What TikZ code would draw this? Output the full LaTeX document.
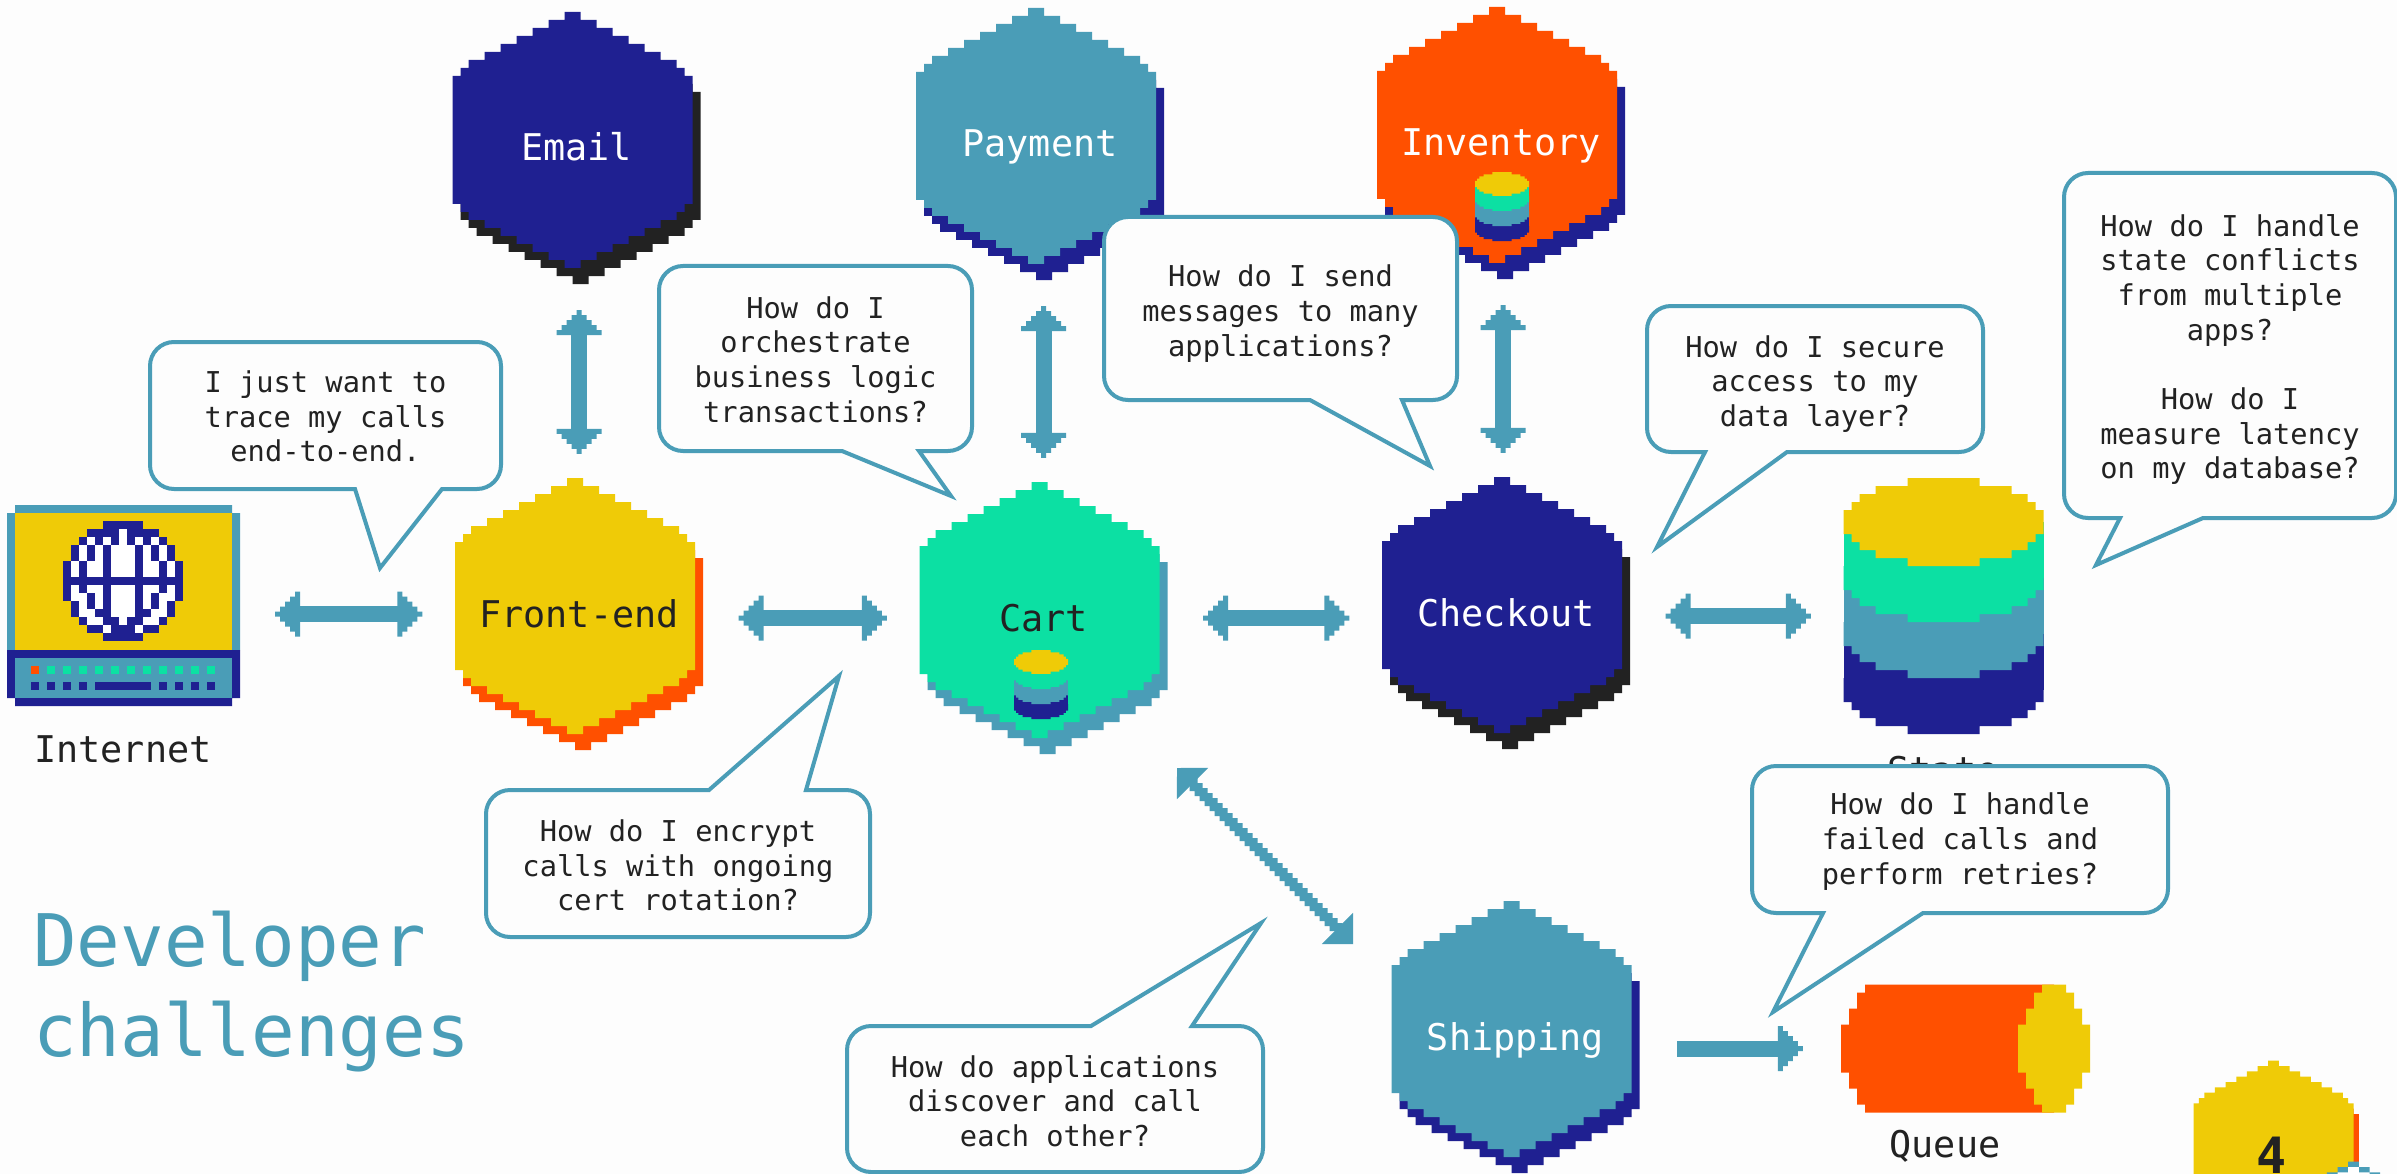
\documentclass[tikz,border=0pt]{standalone}
\usepackage{fontspec}
\setmainfont{DejaVu Sans Mono}
\usetikzlibrary{arrows.meta,calc,decorations.pathmorphing}

\definecolor{paper}{HTML}{FDFDFD}
\definecolor{navy}{HTML}{1F2091}
\definecolor{teal}{HTML}{4A9DB7}
\definecolor{gold}{HTML}{EFCB07}
\definecolor{flame}{HTML}{FF5000}
\definecolor{mint}{HTML}{0CE0A3}
\definecolor{ink}{HTML}{222222}

% stepped arrow head, five columns of 5pt
\pgfdeclarearrow{
  name=PixTip,
  setup code={
    \pgfarrowssettipend{25pt}
    \pgfarrowssetlineend{1pt}
    \pgfarrowssetbackend{0pt}
    \pgfarrowssetvisualbackend{0pt}
  },
  drawing code={
    \pgfpathrectanglecorners{\pgfqpoint{0pt}{-2.5pt}}{\pgfqpoint{25pt}{2.5pt}}
    \pgfpathrectanglecorners{\pgfqpoint{0pt}{-7.5pt}}{\pgfqpoint{20pt}{7.5pt}}
    \pgfpathrectanglecorners{\pgfqpoint{0pt}{-12.5pt}}{\pgfqpoint{15pt}{12.5pt}}
    \pgfpathrectanglecorners{\pgfqpoint{0pt}{-17.5pt}}{\pgfqpoint{10pt}{17.5pt}}
    \pgfpathrectanglecorners{\pgfqpoint{0pt}{-22.5pt}}{\pgfqpoint{5pt}{22.5pt}}
    \pgfusepathqfill
  }
}

\newcommand{\hexoutline}{(1,-16) |- (3,-15) |- (5,-14) |- (7,-13) |- (9,-12) |- (11,-11) |- (13,-10) |- (14,-9) |- (15,-8)
  -- (15,8) -| (14,9) -| (13,10) -| (11,11) -| (9,12) -| (7,13) -| (5,14) -| (3,15) -| (1,16)
  -- (-1,16) |- (-3,15) |- (-5,14) |- (-7,13) |- (-9,12) |- (-11,11) |- (-13,10) |- (-14,9) |- (-15,8)
  -- (-15,-8) -| (-14,-9) -| (-13,-10) -| (-11,-11) -| (-9,-12) -| (-7,-13) -| (-5,-14) -| (-3,-15) -| (-1,-16) -- cycle}
\newcommand{\lensoutline}{(4.5,-5.5) |- (8.5,-4.5) |- (10.5,-3.5) |- (11.5,-2.5) |- (12.5,-1.5)
  -- (12.5,1.5) -| (11.5,2.5) -| (10.5,3.5) -| (8.5,4.5) -| (4.5,5.5)
  -- (-4.5,5.5) |- (-8.5,4.5) |- (-10.5,3.5) |- (-11.5,2.5) |- (-12.5,1.5)
  -- (-12.5,-1.5) -| (-11.5,-2.5) -| (-10.5,-3.5) -| (-8.5,-4.5) -| (-4.5,-5.5) -- cycle}

% centre of hexagon and shadow, fill, shadow, pixel size
\newcommand{\hexshape}[4]{
  \begin{scope}[shift={(#1)}, x=#4pt, y=-#4pt]
    \fill[#3, shift={(.5,1)}] \hexoutline;
    \fill[#2, shift={(-.5,-1)}] \hexoutline;
  \end{scope}
}
% name, centre, fill, shadow, text colour, label
\newcommand{\hexnode}[6]{
  \hexshape{#2}{#3}{#4}{8}
  \node[service, text=#5] (#1) at (#2) {#6};
}
% centre of the top face, pixel size
\newcommand{\stack}[2]{
  \begin{scope}[shift={(#1)}, x=#2pt, y=-#2pt]
    \foreach \dy/\layer in {21/navy,14/teal,7/mint}{
      \fill[\layer, shift={(0,\dy)}] \lensoutline;
      \fill[\layer] (-12.5,\dy-7) rectangle (12.5,\dy);
    }
    \fill[gold] \lensoutline;
  \end{scope}
}
% text drop, name, tail-side left corner, opposite corner, tail base x (two), tail tip, text
\newcommand{\bubble}[8][3]{
  \path (#3) coordinate (#2A) (#4) coordinate (#2B) (#5,0) coordinate (#2p) (#6,0) coordinate (#2q) (#7) coordinate (#2tip);
  \draw[bubbleline] (#2p |- #2A) -- (#2A) -- (#2A |- #2B) -- (#2B) -- (#2B |- #2A)
    [sharp corners] -- (#2q |- #2A) -- (#2tip) -- cycle;
  \node[question, yshift=-#1pt] (#2) at ($(#2A)!.5!(#2B)$) {#8};
}

\begin{document}
\begin{tikzpicture}[
 x=1pt, y=-1pt,
 service/.style={inner sep=0pt, minimum width=249pt, minimum height=272pt, text height=26pt, text depth=0pt, font=\fontsize{36.8}{37}\selectfont},
 caption/.style={anchor=base, inner sep=0pt, text=ink, font=\fontsize{36.8}{37}\selectfont},
 question/.style={align=center, inner sep=0pt, text=ink, font=\fontsize{28.7}{34.7}\selectfont},
 bubbleline/.style={draw=teal, fill=paper, line width=4pt, rounded corners=24pt},
 link/.style={draw=teal, line width=16pt},
 hlink/.style={link, {PixTip}-{PixTip}, shorten <=35pt, shorten >=32pt},
 vlink/.style={link, {PixTip}-{PixTip}, shorten <=26pt, shorten >=24pt},
 stair/.style={draw=teal, line width=8pt, decorate, decoration={zigzag, amplitude=1.77pt, segment length=7.07pt}}
]
 \useasboundingbox (0,0) rectangle (2397,1174);
 \fill[paper] (0,0) rectangle (2397,1174);

 % Services
 \hexnode{email}{576.5,148}{navy}{ink}{white}{Email}
 \hexnode{payment}{1040,144}{teal}{navy}{white}{Payment}
 \hexnode{inventory}{1501,143}{flame}{navy}{white}{Inventory}
 \hexnode{frontend}{579,614}{gold}{flame}{ink}{Front-end}
 \hexnode{cart}{1043.5,618}{mint}{teal}{ink}{Cart}
 \hexnode{checkout}{1506,613}{navy}{ink}{white}{Checkout}
 \hexnode{shipping}{1515.5,1037}{teal}{navy}{white}{Shipping}
 \stack{1502,184}{2.16}
 \stack{1041,662}{2.16}

 % Internet: monitor and base
 \node[minimum width=233pt, minimum height=201pt, inner sep=0pt] (internet) at (123.5,605.5) {};
 \fill[teal] (15,505) rectangle (232,513) (7,513) rectangle (240,650);
 \fill[gold] (15,513) rectangle (232,650);
 \fill[navy] (7,650) rectangle (240,698) (15,698) rectangle (232,706);
 \fill[teal] (15,658) rectangle (232,698);
 \foreach \i in {0,...,11}
   \fill[mint] (31+16*\i,666) rectangle +(8,8);
 \fill[flame] (31,666) rectangle +(8,8);
 \foreach \i in {0,1,2,3,8,9,10,11}
   \fill[navy] (31+16*\i,682) rectangle +(8,8);
 \fill[navy] (95,682) rectangle (151,690);
 % Internet: globe, row/first column/last column
 \begin{scope}[shift={(63,521)}, x=8pt, y=-8pt]
   \foreach \r/\a/\b in {0/5/9,1/3/11,2/2/12,3/1/13,4/1/13,5/0/14,6/0/14,7/0/14,8/0/14,9/0/14,10/1/13,11/1/13,12/2/12,13/3/11,14/5/9}
     \fill[navy] (\a,\r) rectangle (\b+1,\r+1);
   \foreach \r/\a/\b in {1/7/7,
     2/3/3,2/5/5,2/7/7,2/9/9,2/11/11,
     3/2/2,3/4/4,3/6/8,3/10/10,3/12/12,
     4/2/2,4/4/4,4/6/8,4/10/10,4/12/12,
     5/1/1,5/3/4,5/6/8,5/10/11,5/13/13,
     6/1/1,6/3/4,6/6/8,6/10/11,6/13/13,
     8/1/1,8/3/4,8/6/8,8/10/11,8/13/13,
     9/1/2,9/4/4,9/6/8,9/10/10,9/12/13,
     10/2/2,10/4/4,10/6/8,10/10/10,10/12/12,
     11/2/3,11/6/8,11/11/12,
     12/3/4,12/7/7,12/10/11,
     13/5/5,13/9/9}
     \fill[white] (\a,\r) rectangle (\b+1,\r+1);
 \end{scope}
 \node[caption] (internetname) at (123,762) {Internet};

 % State database
 \node[minimum width=201pt, minimum height=256pt, inner sep=0pt] (state) at (1943.5,606) {};
 \stack{1943.5,522}{8}
 \node[caption] (statename) at (1943,783) {State};

 % Queue
 \node[minimum width=249pt, minimum height=128pt, inner sep=0pt] (queue) at (1965.5,1048.5) {};
 \begin{scope}[shift={(2054,1048.5)}, x=8pt, y=-8pt]
   \fill[flame] (0,-8) -- (-23.6,-8) |- (-24.6,-7) |- (-25.6,-5) |- (-26.6,-3) -- (-26.6,3) -| (-25.6,5) -| (-24.6,7) -| (-23.6,8) -- (0,8) -- cycle;
   \fill[gold] (1.5,-8) |- (2.5,-7) |- (3.5,-5) |- (4.5,-3) -- (4.5,3) -| (3.5,5) -| (2.5,7) -| (1.5,8) -- (-1.5,8) |- (-2.5,7) |- (-3.5,5) |- (-4.5,3) -- (-4.5,-3) -| (-3.5,-5) -| (-2.5,-7) -| (-1.5,-8) -- cycle;
 \end{scope}
 \node[caption] (queuename) at (1945,1157) {Queue};

 % Corner badge, cut off by the page
 \hexshape{2276.2,1151.3}{gold}{flame}{5.33}
 \node[caption, font=\fontsize{50}{50}\selectfont\bfseries] (pagenumber) at (2272,1173) {4};
 \begin{scope}[shift={(2353.5,1247)}, x=5.33pt, y=-5.33pt]
   \fill[teal] \hexoutline;
   \fill[white, shift={(0,1)}] \hexoutline;
 \end{scope}

 % Title
 \node[anchor=north west, align=left, inner sep=0pt, text=teal, font=\fontsize{72.5}{89.5}\selectfont] (title) at (33,911) {Developer\\challenges};

 % Links between services
 \draw[hlink] (frontend.west -| internet.east) -- (frontend.west);
 \draw[hlink] (cart.west -| frontend.east) -- (cart.west);
 \draw[hlink] (cart.east) -- (cart.east -| checkout.west);
 \draw[hlink] ([yshift=-3pt]checkout.east) -- ([yshift=-3pt]checkout.east -| state.west);
 \draw[vlink] (frontend.north |- email.south) -- (frontend.north);
 \draw[vlink] (cart.north |- payment.south) -- (cart.north);
 \draw[vlink] ([xshift=-3pt]checkout.north |- inventory.south) -- ([xshift=-3pt]checkout.north);
 \draw[link, -{PixTip}, shorten <=37pt, shorten >=38pt] (queue.west -| shipping.east) -- (queue.west);
 % Cart to Shipping runs at 45 degrees, so the shaft is a staircase
 \coordinate (cartcorner) at (1177,768);
 \coordinate (shipcorner) at (1353,944);
 \draw[teal, line width=1pt, {Triangle[length=22pt,width=44pt]}-{Triangle[length=22pt,width=44pt]}] (cartcorner) -- (shipcorner);
 \draw[stair] ($(cartcorner)!.08!(shipcorner)$) -- ($(cartcorner)!.92!(shipcorner)$);

 % Questions
 \bubble[1]{tracing}{150,489}{501,342}{355}{442}{380,568}{I just want to\\trace my calls\\end-to-end.}
 \bubble[1]{orchestration}{659,451}{972,266}{842}{919}{951,496}{How do I\\orchestrate\\business logic\\transactions?}
 \bubble[5]{messaging}{1104,400}{1457,217}{1310}{1402}{1430,466}{How do I send\\messages to many\\applications?}
 \bubble[5]{security}{1647,452}{1983,306}{1705}{1787}{1657,547}{How do I secure\\access to my\\data layer?}
 \bubble[4]{conflicts}{2064,518}{2396,173}{2120}{2203}{2096,565}{How do I handle\\state conflicts\\from multiple\\apps?\\~\\How do I\\measure latency\\on my database?}
 \bubble[2]{encryption}{486,790}{870,937}{709}{806}{839,676}{How do I encrypt\\calls with ongoing\\cert rotation?}
 \bubble[2]{discovery}{847,1026}{1263,1172}{1091}{1192}{1261,923}{How do applications\\discover and call\\each other?}
 \bubble[2]{retries}{1752,913}{2168,766}{1823}{1923}{1773,1012}{How do I handle\\failed calls and\\perform retries?}
\end{tikzpicture}
\end{document}
